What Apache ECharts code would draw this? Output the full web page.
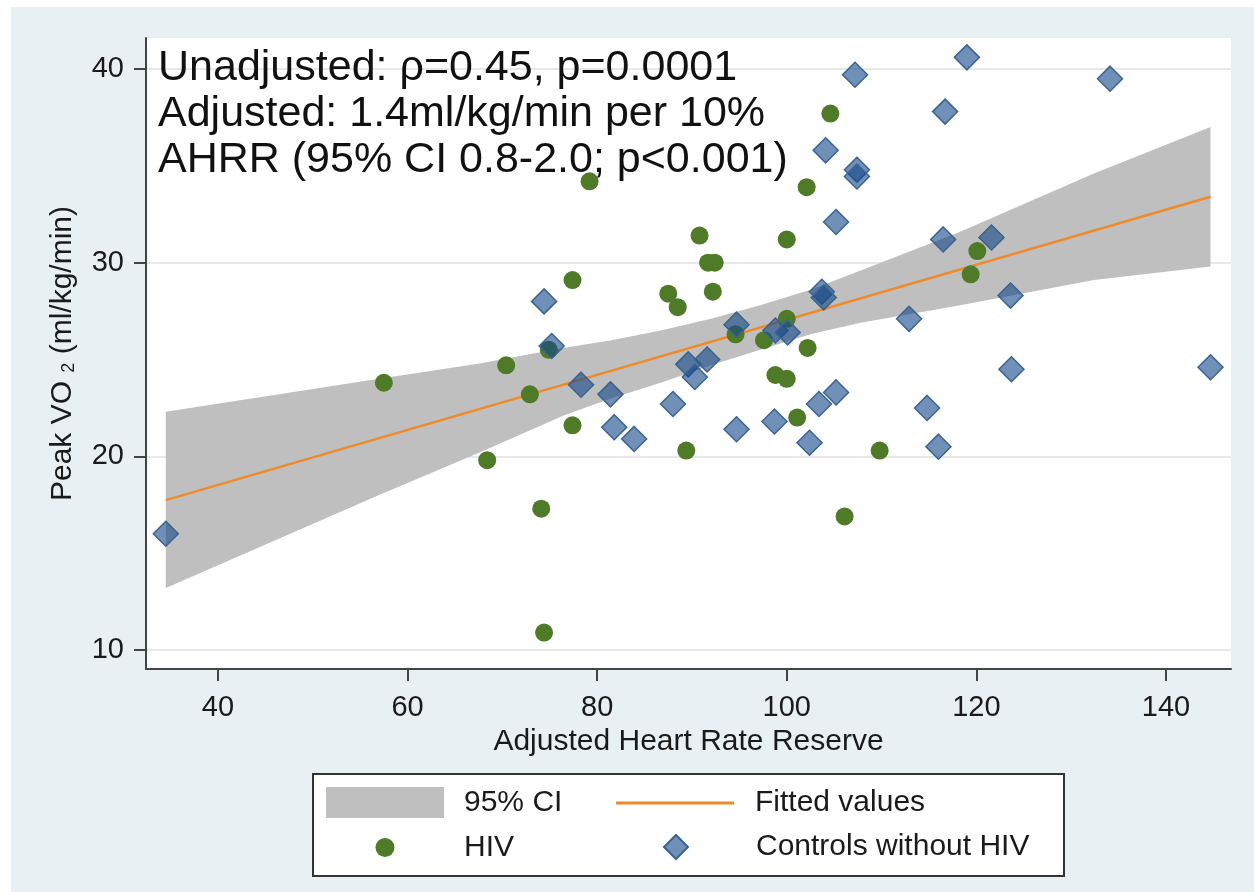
<!DOCTYPE html>
<html>
<head>
<meta charset="utf-8">
<script src="https://cdn.jsdelivr.net/npm/echarts@6/dist/echarts.min.js"></script>
<style>
  html, body { margin: 0; padding: 0; background: #fff; }
  #container { position: absolute; left: 11px; top: 7px; width: 1243px; height: 885px; }
</style>
</head>
<body>
<div id="container"></div>
<script>
// HIV group (green dots)
const hivX = [57.5, 68.4, 70.4, 72.9, 74.1, 74.4, 74.9, 77.4, 77.4, 79.2, 87.5, 88.5, 89.4, 90.8, 91.7, 92.4,
  92.2, 94.6, 97.6, 98.8, 100.0, 100.0, 100.0, 101.1, 102.2, 102.1, 104.6, 106.1, 109.8, 119.4, 120.1];
const hivY = [23.8, 19.8, 24.7, 23.2, 17.3, 10.9, 25.5, 29.1, 21.6, 34.2, 28.4, 27.7, 20.3, 31.4, 30.0, 30.0,
  28.5, 26.3, 26.0, 24.2, 24.0, 27.1, 31.2, 22.0, 25.6, 33.9, 37.7, 16.9, 20.3, 29.4, 30.6];

// controls (blue diamonds)
const ctrlX = [34.5, 74.4, 75.2, 78.3, 81.4, 81.8, 83.9, 88.0, 89.6, 90.3, 91.6, 94.7, 94.7, 98.8, 100.1, 98.7,
  103.4, 102.4, 105.2, 103.7, 103.9, 107.2, 104.1, 105.2, 119.0, 134.1, 116.7, 107.4, 107.4, 116.5, 121.6,
  123.6, 112.9, 123.7, 144.7, 114.8, 116.0];
const ctrlY = [16.0, 28.0, 25.7, 23.7, 23.2, 21.5, 20.9, 22.7, 24.75, 24.1, 25.0, 26.8, 21.4, 26.5, 26.4, 21.8,
  22.7, 20.7, 23.3, 28.5, 28.2, 39.7, 35.8, 32.1, 40.6, 39.5, 37.8, 34.8, 34.45, 31.2, 31.3,
  28.3, 27.1, 24.5, 24.6, 22.5, 20.5];

// 95% CI band
const ciX    = [34.5, 57.0, 67.6, 76.4, 81.5, 86.7, 92.0, 97.2, 102.5, 107.8, 118.3, 132.4, 144.7];
const ciLow  = [13.2, 18.0, 20.2, 22.1, 23.0, 23.8, 24.7, 25.5, 26.3, 26.9, 27.8, 29.1, 29.8];
const ciHigh = [22.3, 24.0, 24.8, 25.6, 26.0, 26.5, 27.1, 27.8, 28.6, 29.6, 31.6, 34.6, 37.0];

// fitted line
const fitX = [34.5, 144.7];
const fitY = [17.74, 33.4];

const xTicks = [40, 60, 80, 100, 120, 140];
const yTicks = [10, 20, 30, 40];

const FONT = '"Liberation Sans", Arial, Helvetica, sans-serif';

let dom = document.getElementById('container');
let myChart = echarts.init(dom, null, { renderer: 'canvas' });

let legendText = function (pad) {
  return { fontSize: 30, color: '#1a1a1a', padding: [0, 0, 0, pad], fontFamily: FONT };
};

let option = {
  backgroundColor: '#e9f0f3',
  animation: false,
  textStyle: { fontFamily: FONT },
  title: {
    left: 147,
    top: 38,
    padding: 0,
    text: 'Unadjusted: ρ=0.45, p=0.0001\nAdjusted: 1.4ml/kg/min per 10%\nAHRR (95% CI 0.8-2.0; p<0.001)',
    textStyle: { fontSize: 43, fontWeight: 'normal', color: '#111', lineHeight: 46, fontFamily: FONT }
  },
  grid: {
    show: true,
    backgroundColor: '#fff',
    borderWidth: 0,
    left: 135,
    right: 23,
    top: 31,
    bottom: 223,
    outerBoundsMode: 'none'
  },
  xAxis: {
    type: 'value',
    min: 32.41,
    max: 146.86,
    name: 'Adjusted Heart Rate Reserve',
    nameLocation: 'middle',
    nameGap: 54,
    nameTextStyle: { fontSize: 30, color: '#1a1a1a', fontFamily: FONT },
    axisLine: { show: true, onZero: false, lineStyle: { color: '#444', width: 2 } },
    axisTick: { show: true, length: 12, customValues: xTicks, lineStyle: { color: '#444', width: 2 } },
    axisLabel: { customValues: xTicks, fontSize: 29, color: '#1a1a1a', margin: 24, fontFamily: FONT },
    splitLine: { show: false }
  },
  yAxis: {
    type: 'value',
    min: 9.02,
    max: 41.6,
    name: '{a|Peak VO }{s|2}{a| (ml/kg/min)}',
    nameLocation: 'middle',
    nameGap: 68,
    nameRotate: 90,
    nameTextStyle: {
      color: '#1a1a1a',
      rich: {
        a: { fontSize: 30, color: '#1a1a1a', fontFamily: FONT },
        s: { fontSize: 18, color: '#1a1a1a', fontFamily: FONT, verticalAlign: 'bottom' }
      }
    },
    axisLine: { show: true, onZero: false, lineStyle: { color: '#444', width: 2 } },
    axisTick: { show: true, length: 12, customValues: yTicks, lineStyle: { color: '#444', width: 2 } },
    axisLabel: { customValues: yTicks, fontSize: 29, color: '#1a1a1a', margin: 22, fontFamily: FONT },
    splitLine: { show: true, lineStyle: { color: '#e8e8e8', width: 2 } }
  },
  legend: [
    {
      data: [{ name: '95% CI', icon: 'rect' }],
      left: 315, top: 780, padding: 0, itemWidth: 118, itemHeight: 31,
      selectedMode: false, z: 5,
      textStyle: legendText(15)
    },
    {
      data: [{ name: 'Fitted values', icon: 'rect' }],
      left: 605, top: 781, padding: 0, itemWidth: 118, itemHeight: 3,
      selectedMode: false, z: 5,
      textStyle: legendText(16)
    },
    {
      data: [{ name: 'HIV', icon: 'circle' }],
      left: 364.5, top: 825.5, padding: 0, itemWidth: 19, itemHeight: 19,
      selectedMode: false, z: 5,
      textStyle: legendText(64.5)
    },
    {
      data: [{ name: 'Controls without HIV', icon: 'diamond' }],
      left: 652, top: 825, padding: 0, itemWidth: 24, itemHeight: 24,
      selectedMode: false, z: 5,
      textStyle: legendText(63)
    }
  ],
  graphic: {
    elements: [{
      type: 'rect',
      left: 301,
      top: 766,
      z: 1,
      shape: { width: 751, height: 102 },
      style: { fill: '#fff', stroke: '#333', lineWidth: 2 }
    }]
  },
  series: [
    {
      name: '95% CI',
      type: 'custom',
      silent: true,
      z: 1,
      itemStyle: { color: '#bfbfbf' },
      data: ciX.map(function (x, i) { return [x, ciLow[i], ciHigh[i]]; }),
      encode: { x: 0, y: [1, 2] },
      renderItem: function (params, api) {
        if (params.dataIndex !== 0) {
          return;
        }
        let pts = [];
        for (let i = 0; i < ciX.length; i++) {
          pts.push(api.coord([ciX[i], ciHigh[i]]));
        }
        for (let i = ciX.length - 1; i >= 0; i--) {
          pts.push(api.coord([ciX[i], ciLow[i]]));
        }
        return {
          type: 'polygon',
          shape: { points: pts },
          style: { fill: '#bfbfbf' }
        };
      }
    },
    {
      name: 'Fitted values',
      type: 'line',
      z: 2,
      symbol: 'none',
      silent: true,
      data: fitX.map(function (x, i) { return [x, fitY[i]]; }),
      lineStyle: { color: '#ee8a2a', width: 2.5 },
      itemStyle: { color: '#ee8a2a' }
    },
    {
      name: 'HIV',
      type: 'scatter',
      z: 3,
      symbol: 'circle',
      symbolSize: 18,
      data: hivX.map(function (x, i) { return [x, hivY[i]]; }),
      itemStyle: { color: '#4f7a28', opacity: 1 }
    },
    {
      name: 'Controls without HIV',
      type: 'scatter',
      z: 4,
      symbol: 'diamond',
      symbolSize: 25,
      data: ctrlX.map(function (x, i) { return [x, ctrlY[i]]; }),
      itemStyle: { color: 'rgba(16,70,135,0.6)', borderColor: '#3b6391', borderWidth: 1.5, opacity: 1 }
    }
  ]
};

myChart.setOption(option);
</script>
</body>
</html>
